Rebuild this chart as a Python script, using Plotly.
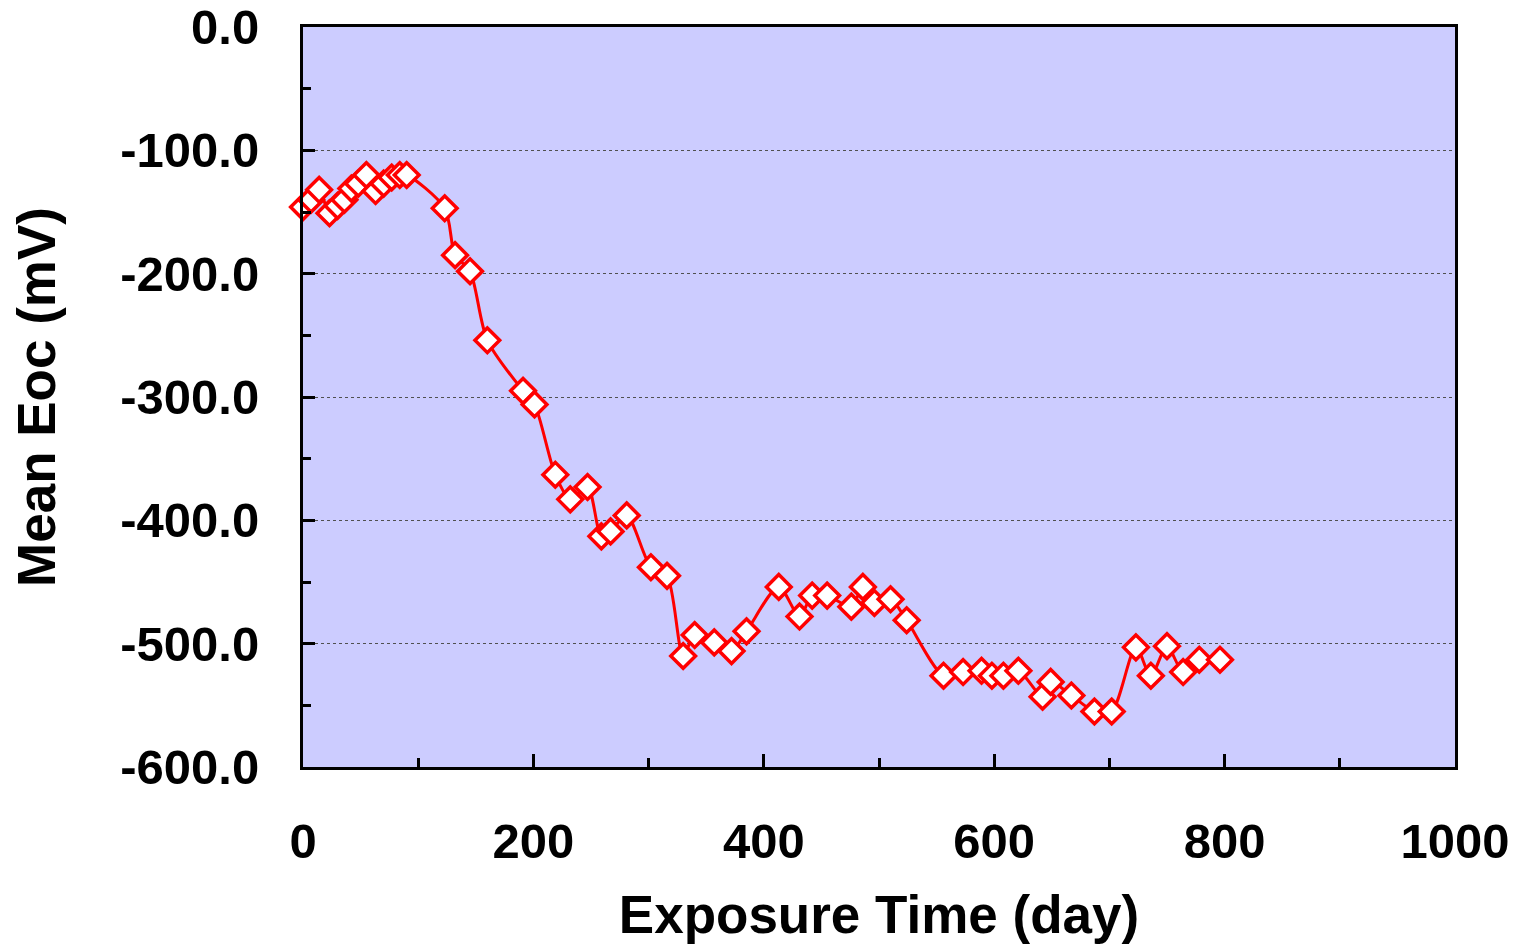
import plotly.graph_objects as go

# Exposure time (days) and mean open-circuit potential (mV)
exposure_days = [0, 7, 14, 23, 30, 36, 42, 48, 55, 63, 70, 77, 84, 90,
                 123, 132, 145, 160, 191, 201, 219, 232, 247, 259, 267, 281,
                 302, 316, 330, 340, 357, 372, 385, 413, 431, 442, 455, 476,
                 486, 496, 510, 524, 556, 573, 589, 598, 608, 621, 642, 649,
                 667, 687, 702, 723, 736, 750, 764, 778, 796]
mean_eoc = [-146, -140, -132, -151, -145, -140, -131, -127, -120, -133, -127, -122, -120, -120,
            -147, -185, -198, -254, -295, -306, -363, -383, -373, -413, -409, -396,
            -438, -445, -510, -493, -499, -506, -490, -454, -478, -461, -461, -470,
            -454, -467, -464, -481, -526, -523, -522, -526, -526, -522, -543, -531,
            -542, -555, -555, -503, -526, -502, -523, -513, -513]

y_tick_values = [0, -100, -200, -300, -400, -500, -600]
y_tick_labels = ["0.0", "-100.0", "-200.0", "-300.0", "-400.0", "-500.0", "-600.0"]
x_tick_values = [0, 200, 400, 600, 800, 1000]
x_tick_labels = ["0", "200", "400", "600", "800", "1000"]

FONT = "Liberation Sans, Arial, sans-serif"

fig = go.Figure()
fig.add_trace(go.Scatter(
    x=exposure_days,
    y=mean_eoc,
    mode="lines+markers",
    line=dict(color="#FF0000", width=3, shape="spline", smoothing=0.8),
    marker=dict(symbol="diamond", size=19, color="white",
                line=dict(color="#FF0000", width=3.5)),
    showlegend=False,
    cliponaxis=False,
))

fig.update_layout(
    width=1525,
    height=948,
    margin=dict(l=303, r=70, t=27, b=181),
    plot_bgcolor="#CCCCFF",
    paper_bgcolor="white",
    font=dict(family=FONT, color="black"),
    showlegend=False,
)

fig.update_xaxes(
    range=[0, 1000],
    automargin=False,
    tickvals=x_tick_values,
    ticktext=x_tick_labels,
    ticks="inside",
    ticklen=13,
    tickwidth=3,
    tickcolor="black",
    tickfont=dict(family=FONT, size=49, weight="bold"),
    ticklabelstandoff=29,
    showline=True,
    linewidth=3,
    linecolor="black",
    mirror=True,
    showgrid=False,
    zeroline=False,
    minor=dict(dtick=100, tick0=0, ticks="inside", ticklen=9, tickwidth=3,
               tickcolor="black", showgrid=False),
    title=dict(text="Exposure Time (day)",
               font=dict(family=FONT, size=53, weight="bold"),
               standoff=30),
)

fig.update_yaxes(
    range=[-600, 0],
    automargin=False,
    tickvals=y_tick_values,
    ticktext=y_tick_labels,
    ticks="inside",
    ticklen=12,
    tickwidth=3,
    tickcolor="black",
    tickfont=dict(family=FONT, size=49, weight="bold"),
    ticklabelstandoff=31,
    showline=True,
    linewidth=3,
    linecolor="black",
    mirror=True,
    showgrid=True,
    gridcolor="#505050",
    gridwidth=1,
    griddash="dot",
    zeroline=False,
    minor=dict(dtick=50, tick0=0, ticks="inside", ticklen=8, tickwidth=3,
               tickcolor="black", showgrid=False),
    title=dict(text="Mean Eoc (mV)",
               font=dict(family=FONT, size=53, weight="bold"),
               standoff=48),
)

fig.write_html("out.html")
